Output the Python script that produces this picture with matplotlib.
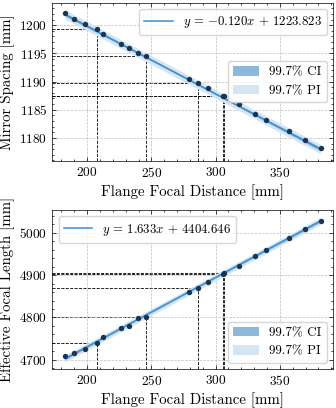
import numpy as np
import matplotlib
matplotlib.use("Agg")
import matplotlib.pyplot as plt

# ---- data ----
flange = [182.8, 189.9, 198.1, 207.3, 212.5, 226.5, 232.4, 239.3, 246.0, 279.0,
          286.0, 293.8, 305.8, 306.6, 318.0, 331.0, 339.6, 356.8, 369.7, 381.7]
mirror_spacing = [1202.1, 1201.1, 1200.2, 1199.3, 1198.5, 1196.7, 1196.0, 1195.1, 1194.6, 1190.5,
                  1189.7, 1188.9, 1187.5, 1187.4, 1186.1, 1184.2, 1183.2, 1181.2, 1179.7, 1178.3]
efl = [4708.5, 4717.0, 4726.4, 4739.7, 4752.9, 4774.0, 4781.0, 4799.7, 4802.0, 4859.7,
       4869.0, 4883.0, 4901.8, 4904.0, 4922.0, 4944.7, 4958.7, 4986.7, 5007.8, 5027.3]
highlight_idx = [3, 8, 10, 12, 13]
fit_top = (-0.120, 1223.823)
fit_bot = (1.633, 4404.646)
xlabel = "Flange Focal Distance [mm]"
ylabel_top = "Mirror Spacing [mm]"
ylabel_bot = "Effective Focal Length [mm]"

plt.rcParams.update({
    "font.family": "serif",
    "font.serif": ["cmr10"],
    "mathtext.fontset": "cm",
    "axes.formatter.use_mathtext": True,
    "axes.unicode_minus": False,
    "font.size": 10.5,
    "axes.labelsize": 10.7,
    "xtick.labelsize": 9.6,
    "ytick.labelsize": 9.6,
    "xtick.direction": "in", "ytick.direction": "in",
    "xtick.top": True, "ytick.right": True,
    "xtick.minor.visible": True, "ytick.minor.visible": True,
    "xtick.major.size": 3, "ytick.major.size": 3,
    "xtick.minor.size": 1.5, "ytick.minor.size": 1.5,
    "xtick.major.width": 0.5, "ytick.major.width": 0.5,
    "xtick.minor.width": 0.5, "ytick.minor.width": 0.5,
    "axes.linewidth": 0.5,
    "axes.grid": True, "grid.linestyle": "--", "grid.linewidth": 0.5,
    "grid.color": "#bdbdbd",
})

line_c = "#3d8fd1"
pt_c = "#1b3550"

fig = plt.figure(figsize=(3.36, 4.08), dpi=100)
ax1 = fig.add_axes([52.3/336, 1-161/408, (333.3-52.3)/336, (161-2.7)/408])
ax2 = fig.add_axes([52.3/336, 1-369.3/408, (333.3-52.3)/336, (369.3-210)/408])


def panel(ax, x, y, fit, ylabel, loc_line, loc_band):
    x = np.asarray(x); y = np.asarray(y)
    m, b = fit
    xs = np.linspace(x.min(), x.max(), 200)
    yfit = m * xs + b
    n = len(x)
    resid = y - (m * x + b)
    s = np.sqrt(np.sum(resid**2) / (n - 2))
    xm = x.mean(); sxx = np.sum((x - xm)**2)
    t = 3.0
    ci = t * s * np.sqrt(1/n + (xs - xm)**2 / sxx)
    pi = t * s * np.sqrt(1 + 1/n + (xs - xm)**2 / sxx)
    hpi = ax.fill_between(xs, yfit - pi, yfit + pi, color="#d4e5f3", lw=0, zorder=2)
    hci = ax.fill_between(xs, yfit - ci, yfit + ci, color="#8cb8da", lw=0, zorder=3)
    sign = "$-$" if m < 0 else ""
    lab = r"$y$ = %s%.3f$x$ + %.3f" % (sign, abs(m), b)
    hl, = ax.plot(xs, yfit, color=line_c, lw=1.1, zorder=4, label=lab)
    ax.scatter(x, y, s=15, color=pt_c, zorder=5, lw=0)
    ax.autoscale(enable=False)
    x0 = ax.get_xlim()[0]; y0 = ax.get_ylim()[0]
    for i in highlight_idx:
        ax.plot([x0, x[i]], [y[i], y[i]], color="k", ls="--", lw=0.6, zorder=1.5)
        ax.plot([x[i], x[i]], [y0, y[i]], color="k", ls="--", lw=0.6, zorder=1.5)
    ax.set_xlabel(xlabel, labelpad=3)
    ax.set_ylabel(ylabel, labelpad=3)
    leg1 = ax.legend(handles=[hl], loc=loc_line, fontsize=9.2, handlelength=2.2)
    ax.add_artist(leg1)
    ax.legend([hci, hpi], ["99.7% CI", "99.7% PI"], loc=loc_band, fontsize=9.4)
    ax.set_xticks([200, 250, 300, 350])


panel(ax1, flange, mirror_spacing, fit_top, ylabel_top, "upper right", "center right")
panel(ax2, flange, efl, fit_bot, ylabel_bot, "upper left", "lower right")
ax1.set_yticks([1180, 1185, 1190, 1195, 1200])
ax2.set_yticks([4700, 4800, 4900, 5000])

fig.savefig("out.png", dpi=100)
